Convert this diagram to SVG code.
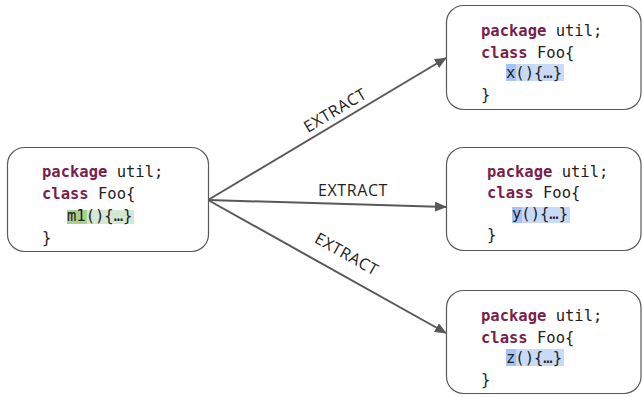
<svg xmlns="http://www.w3.org/2000/svg" width="642" height="397" viewBox="0 0 642 397">
<style>
.box{fill:#fff;stroke:#595959;stroke-width:1.2}
.code{font-family:"DejaVu Sans Mono","Liberation Mono",monospace;font-size:15.5px;fill:#222}
.kw{font-weight:bold;fill:#7a1f4b}
.lbl{font-family:"Open Sans","Liberation Sans",sans-serif;font-size:16px;letter-spacing:0.6px;fill:#222}
.edge{stroke:#595959;stroke-width:2;fill:none}
</style>
<defs>
<marker id="arr" viewBox="0 0 12 10" refX="11" refY="5" markerWidth="12" markerHeight="10" markerUnits="userSpaceOnUse" orient="auto">
<path d="M0,0 L12,5 L0,10 z" fill="#595959"/>
</marker>
</defs>
<g id="connectors">
<line class="edge" x1="208" y1="200" x2="446" y2="58" marker-end="url(#arr)"/>
<line class="edge" x1="208" y1="200" x2="446" y2="207" marker-end="url(#arr)"/>
<line class="edge" x1="208" y1="200" x2="446" y2="333" marker-end="url(#arr)"/>
<text class="lbl" text-anchor="middle" transform="translate(338,115) rotate(-30.8)">EXTRACT</text>
<text class="lbl" text-anchor="middle" x="353" y="196">EXTRACT</text>
<text class="lbl" text-anchor="middle" transform="translate(344,259) rotate(29.5)">EXTRACT</text>
</g>
<g id="src">
<rect class="box" x="7.5" y="147.5" width="201" height="104" rx="17"/>
<rect x="67" y="210" width="20" height="14" fill="#a9d18e"/>
<rect x="87" y="210" width="47" height="14" fill="#d5e8d4"/>
<text class="code" x="42" y="177"><tspan class="kw">package</tspan> util;</text>
<text class="code" x="42" y="199"><tspan class="kw">class</tspan> Foo{</text>
<text class="code" x="67" y="221">m1(){…}</text>
<text class="code" x="42" y="243">}</text>
</g>
<g id="dstX">
<rect class="box" x="446.5" y="5.5" width="194.5" height="104" rx="17"/>
<rect x="506" y="64" width="10" height="17" fill="#a4c2f4"/>
<rect x="516" y="64" width="48" height="17" fill="#c9daf8"/>
<text class="code" x="481" y="36"><tspan class="kw">package</tspan> util;</text>
<text class="code" x="481" y="58"><tspan class="kw">class</tspan> Foo{</text>
<text class="code" x="506" y="78">x(){…}</text>
<text class="code" x="481" y="100">}</text>
</g>
<g id="dstY">
<rect class="box" x="446.5" y="147.5" width="194.5" height="103" rx="17"/>
<rect x="512" y="207" width="10" height="16" fill="#a4c2f4"/>
<rect x="522" y="207" width="48" height="16" fill="#c9daf8"/>
<text class="code" x="487" y="177"><tspan class="kw">package</tspan> util;</text>
<text class="code" x="487" y="198"><tspan class="kw">class</tspan> Foo{</text>
<text class="code" x="512" y="219">y(){…}</text>
<text class="code" x="487" y="240">}</text>
</g>
<g id="dstZ">
<rect class="box" x="446.5" y="290.5" width="194.5" height="103" rx="17"/>
<rect x="506" y="349" width="10" height="17" fill="#a4c2f4"/>
<rect x="516" y="349" width="48" height="17" fill="#c9daf8"/>
<text class="code" x="481" y="321"><tspan class="kw">package</tspan> util;</text>
<text class="code" x="481" y="343"><tspan class="kw">class</tspan> Foo{</text>
<text class="code" x="506" y="363">z(){…}</text>
<text class="code" x="481" y="385">}</text>
</g>
</svg>
